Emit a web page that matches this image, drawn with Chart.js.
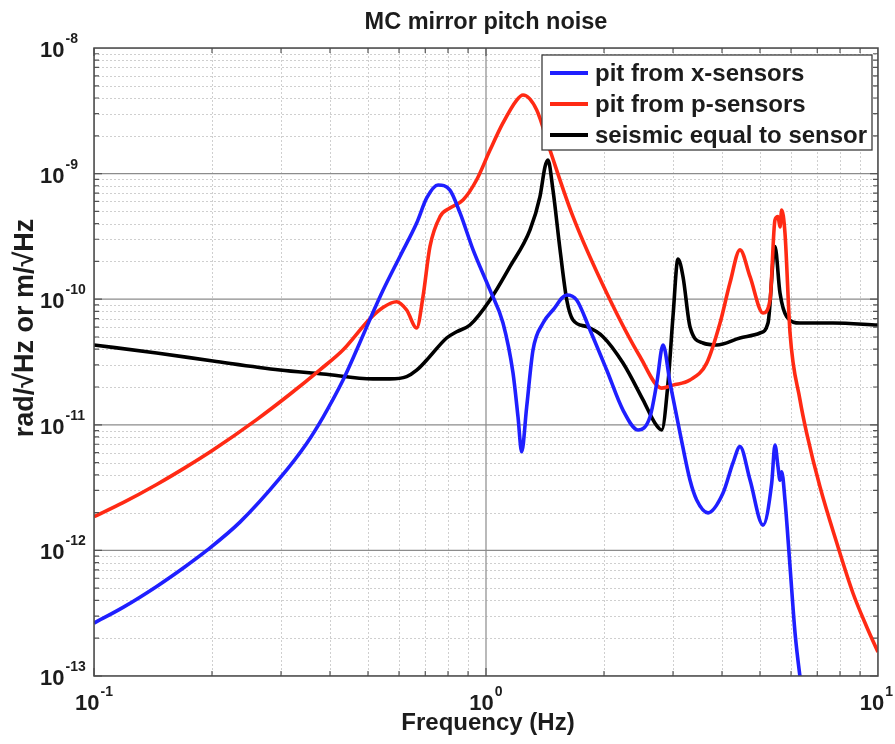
<!DOCTYPE html>
<html>
<head>
<meta charset="utf-8">
<script src="https://cdn.jsdelivr.net/npm/chart.js@4.4.1/dist/chart.umd.min.js"></script>
<style>
  html, body { margin: 0; padding: 0; background: #ffffff; }
  #wrap { width: 895px; height: 744px; position: relative; }
</style>
</head>
<body>
<div id="wrap"><canvas id="c"></canvas></div>
<script>
// ---- data ----
const chartTitle = 'MC mirror pitch noise';
const xAxisTitle = 'Frequency (Hz)';
const yAxisTitle = 'rad/\u221AHz or m/\u221AHz';
const seriesNames = ['pit from x-sensors', 'pit from p-sensors', 'seismic equal to sensor'];

const xTickValues = [0.1, 1, 10];
const xTickExps = ['-1', '0', '1'];
const yTickValues = [1e-8, 1e-9, 1e-10, 1e-11, 1e-12, 1e-13];
const yTickExps = ['-8', '-9', '-10', '-11', '-12', '-13'];

const blueFreq = [0.1, 0.1186, 0.1445, 0.17, 0.194, 0.2357, 0.298, 0.3487, 0.3838, 0.4315, 0.4677, 0.5147,
  0.5458, 0.6031, 0.6655, 0.706, 0.7545, 0.809, 0.8585, 0.927, 1.024, 1.105,
  1.172, 1.207, 1.233, 1.270, 1.318, 1.398, 1.482, 1.607, 1.703, 1.842,
  2.032, 2.236, 2.443, 2.621, 2.727, 2.829, 2.948, 3.126, 3.314, 3.447,
  3.685, 4.024, 4.266, 4.446, 4.716, 5.089, 5.356, 5.46, 5.559, 5.623,
  5.679, 5.79, 5.965, 6.143, 6.324, 6.6];
const blueVal = [2.64e-13, 3.52e-13, 5.17e-13, 7.35e-13, 1.0e-12, 1.68e-12, 3.76e-12, 7.11e-12, 1.147e-11, 2.26e-11, 3.94e-11, 7.83e-11,
  1.173e-10, 2.19e-10, 4.04e-10, 6.4e-10, 8.11e-10, 7.40e-10, 4.86e-10, 2.47e-10, 1.18e-10, 6.46e-11,
  2.58e-11, 1.15e-11, 6.1e-12, 1.39e-11, 3.94e-11, 6.46e-11, 8.2e-11, 1.08e-10, 9.86e-11, 5.69e-11,
  2.73e-11, 1.31e-11, 9.1e-12, 1.16e-11, 2.15e-11, 4.32e-11, 2.15e-11, 8.6e-12, 3.63e-12, 2.52e-12,
  1.99e-12, 2.86e-12, 4.97e-12, 6.7e-12, 3.63e-12, 1.59e-12, 3.44e-12, 6.9e-12, 4.61e-12, 3.63e-12,
  4.23e-12, 2.52e-12, 7.41e-13, 2.2e-13, 9.9e-14, 4e-14];

const redFreq = [0.1, 0.1186, 0.1445, 0.17, 0.2012, 0.260, 0.316, 0.377, 0.4315, 0.5058, 0.5458,
  0.5914, 0.6274, 0.6655, 0.6906, 0.7194, 0.7633, 0.809, 0.8736, 0.946, 1.024,
  1.105, 1.198, 1.243, 1.347, 1.456, 1.667, 2.032, 2.472, 2.807, 2.999,
  3.314, 3.656, 3.954, 4.192, 4.446, 4.716, 5.089, 5.303, 5.46, 5.559,
  5.623, 5.679, 5.79, 5.965, 6.324, 6.577, 7.112, 7.847, 8.63, 9.355, 10];
const redVal = [1.855e-12, 2.40e-12, 3.35e-12, 4.52e-12, 6.3e-12, 1.10e-11, 1.75e-11, 2.74e-11, 3.94e-11, 7.0e-11, 8.6e-11,
  9.55e-11, 8.2e-11, 5.9e-11, 1.047e-10, 2.62e-10, 4.54e-10, 5.32e-10, 6.16e-10, 8.89e-10, 1.54e-9,
  2.53e-9, 3.85e-9, 4.22e-9, 3.21e-9, 1.54e-9, 4.54e-10, 1.12e-10, 3.48e-11, 1.96e-11, 2.07e-11,
  2.27e-11, 3.1e-11, 6.46e-11, 1.35e-10, 2.47e-10, 1.51e-10, 7.76e-11, 9.86e-11, 4.27e-10, 4.54e-10,
  3.76e-10, 5.13e-10, 3.37e-10, 5.38e-11, 1.58e-11, 8.6e-12, 3.21e-12, 1.15e-12, 4.58e-13, 2.47e-13, 1.55e-13];

const blackFreq = [0.1, 0.1445, 0.2012, 0.298, 0.3838, 0.5147, 0.5688, 0.6274, 0.6655, 0.706, 0.7935,
  0.842, 0.910, 1.024, 1.151, 1.295, 1.373, 1.4146, 1.439, 1.482, 1.545,
  1.607, 1.667, 1.807, 1.988, 2.236, 2.515, 2.699, 2.807, 2.913, 2.999,
  3.089, 3.181, 3.314, 3.578, 3.877, 4.446, 5.0, 5.241, 5.46, 5.623,
  5.85, 6.324, 7.674, 10];
const blackVal = [4.32e-11, 3.73e-11, 3.22e-11, 2.73e-11, 2.54e-11, 2.32e-11, 2.32e-11, 2.42e-11, 2.72e-11, 3.28e-11, 4.91e-11,
  5.51e-11, 6.23e-11, 9.86e-11, 1.815e-10, 3.56e-10, 6.55e-10, 1.135e-9, 1.28e-9, 7.4e-10, 2.47e-10,
  9.86e-11, 6.83e-11, 6.04e-11, 5.03e-11, 3.1e-11, 1.58e-11, 1.03e-11, 9.1e-12, 2.15e-11, 7.26e-11,
  2.09e-10, 1.51e-10, 6.04e-11, 4.48e-11, 4.32e-11, 4.91e-11, 5.38e-11, 6.46e-11, 2.62e-10, 1.12e-10,
  7.26e-11, 6.46e-11, 6.46e-11, 6.23e-11];

const seriesColors = ['#1f1fff', '#ff2a14', '#000000'];

function pts(fs, vs) { return fs.map((f, i) => ({ x: f, y: vs[i] })); }

const TEXT = '#1c1c1c';
const FONT = '"Liberation Sans", Arial, sans-serif';

function decadeRange(lo, hi) {
  const out = [];
  for (let e = Math.round(Math.log10(lo)); e < Math.round(Math.log10(hi)); e++) out.push(e);
  return out;
}

const decor = {
  id: 'decor',
  beforeDatasetsDraw(chart) {
    const { ctx, chartArea: a, scales: { x, y } } = chart;
    ctx.save();
    ctx.beginPath(); ctx.rect(a.left, a.top, a.right - a.left, a.bottom - a.top); ctx.clip();
    ctx.strokeStyle = '#cfcfcf'; ctx.lineWidth = 1; ctx.setLineDash([2, 2]);
    ctx.beginPath();
    for (const e of decadeRange(x.min, x.max)) for (let m = 2; m <= 9; m++) {
      const px = Math.round(x.getPixelForValue(m * Math.pow(10, e))) + 0.5;
      ctx.moveTo(px, a.top); ctx.lineTo(px, a.bottom);
    }
    for (const e of decadeRange(y.min, y.max)) for (let m = 2; m <= 9; m++) {
      const py = Math.round(y.getPixelForValue(m * Math.pow(10, e))) + 0.5;
      ctx.moveTo(a.left, py); ctx.lineTo(a.right, py);
    }
    ctx.stroke();
    ctx.setLineDash([]); ctx.strokeStyle = '#8c8c8c'; ctx.lineWidth = 1.2;
    ctx.beginPath();
    for (const v of xTickValues) { const px = x.getPixelForValue(v); ctx.moveTo(px, a.top); ctx.lineTo(px, a.bottom); }
    for (const v of yTickValues) { const py = y.getPixelForValue(v); ctx.moveTo(a.left, py); ctx.lineTo(a.right, py); }
    ctx.stroke();
    ctx.restore();
  },
  afterDatasetsDraw(chart) {
    const { ctx, chartArea: a, scales: { x, y } } = chart;
    ctx.save();
    ctx.strokeStyle = '#555'; ctx.lineWidth = 1.2;
    ctx.beginPath();
    for (const e of decadeRange(x.min, x.max)) for (let m = 1; m <= 9; m++) {
      const px = x.getPixelForValue(m * Math.pow(10, e));
      const L = m === 1 ? 8 : 5;
      ctx.moveTo(px, a.bottom); ctx.lineTo(px, a.bottom - L);
      ctx.moveTo(px, a.top); ctx.lineTo(px, a.top + L);
    }
    for (const e of decadeRange(y.min, y.max)) for (let m = 1; m <= 9; m++) {
      const py = y.getPixelForValue(m * Math.pow(10, e));
      const L = m === 1 ? 8 : 5;
      ctx.moveTo(a.left, py); ctx.lineTo(a.left + L, py);
      ctx.moveTo(a.right, py); ctx.lineTo(a.right - L, py);
    }
    ctx.stroke();
    ctx.strokeStyle = '#4a4a4a'; ctx.lineWidth = 1.5;
    ctx.strokeRect(a.left, a.top, a.right - a.left, a.bottom - a.top);

    ctx.fillStyle = TEXT;
    yTickValues.forEach((v, i) => {
      const py = y.getPixelForValue(v);
      ctx.font = 'bold 22px ' + FONT; ctx.textAlign = 'left'; ctx.textBaseline = 'alphabetic';
      ctx.fillText('10', 40, py + 9);
      const w = ctx.measureText('10').width;
      ctx.font = 'bold 14px ' + FONT;
      ctx.fillText(yTickExps[i], 40 + w + 1, py - 5);
    });
    xTickValues.forEach((v, i) => {
      const px = x.getPixelForValue(v);
      ctx.font = 'bold 22px ' + FONT;
      const w1 = ctx.measureText('10').width;
      ctx.font = 'bold 14px ' + FONT;
      const w2 = ctx.measureText(xTickExps[i]).width;
      let left = px - (w1 + w2 + 1) / 2;
      if (left + w1 + w2 + 1 > chart.width - 2) left = chart.width - 2 - (w1 + w2 + 1);
      ctx.font = 'bold 22px ' + FONT; ctx.textAlign = 'left';
      ctx.fillText('10', left, 710);
      ctx.font = 'bold 14px ' + FONT;
      ctx.fillText(xTickExps[i], left + w1 + 1, 696);
    });
    ctx.textAlign = 'center';
    ctx.font = 'bold 23.5px ' + FONT;
    ctx.fillText(chartTitle, (a.left + a.right) / 2, 29);
    ctx.font = 'bold 24px ' + FONT;
    ctx.fillText(xAxisTitle, (a.left + a.right) / 2 + 2, 730);
    ctx.save();
    ctx.translate(33, 328); ctx.rotate(-Math.PI / 2);
    ctx.font = 'bold 27px ' + FONT;
    ctx.fillText(yAxisTitle, 0, 0);
    ctx.restore();

    const lx = a.right - 336, ly = a.top + 7, lw = 330, lh = 95;
    ctx.fillStyle = '#ffffff';
    ctx.fillRect(lx, ly, lw, lh);
    ctx.strokeStyle = '#3c3c3c'; ctx.lineWidth = 1.3;
    ctx.strokeRect(lx, ly, lw, lh);
    chart.data.datasets.forEach((ds, i) => {
      const ry = ly + 18 + i * 31;
      ctx.strokeStyle = ds.borderColor; ctx.lineWidth = 4;
      ctx.beginPath(); ctx.moveTo(lx + 8, ry); ctx.lineTo(lx + 46, ry); ctx.stroke();
      ctx.fillStyle = TEXT; ctx.font = 'bold 24px ' + FONT;
      ctx.textAlign = 'left'; ctx.textBaseline = 'middle';
      ctx.fillText(ds.label, lx + 53, ry + 1);
    });
    ctx.restore();
  }
};

const mkDs = (i, f, v) => ({
  label: seriesNames[i], data: pts(f, v), borderColor: seriesColors[i], backgroundColor: seriesColors[i],
  borderWidth: 3.6, pointRadius: 0, cubicInterpolationMode: 'monotone', fill: false
});

new Chart(document.getElementById('c'), {
  type: 'line',
  data: { datasets: [mkDs(0, blueFreq, blueVal), mkDs(1, redFreq, redVal), mkDs(2, blackFreq, blackVal)] },
  options: {
    responsive: true, maintainAspectRatio: false, animation: false,
    layout: { padding: { top: 48, right: 17, left: 0, bottom: 0 } },
    plugins: { legend: { display: false }, tooltip: { enabled: false }, title: { display: false } },
    scales: {
      x: { type: 'logarithmic', min: 0.1, max: 10, grid: { display: false }, border: { display: false },
           ticks: { display: false }, afterFit: s => { s.height = 68; } },
      y: { type: 'logarithmic', min: 1e-13, max: 1e-8, grid: { display: false }, border: { display: false },
           ticks: { display: false }, afterFit: s => { s.width = 94; } }
    }
  },
  plugins: [decor]
});
</script>
</body>
</html>
